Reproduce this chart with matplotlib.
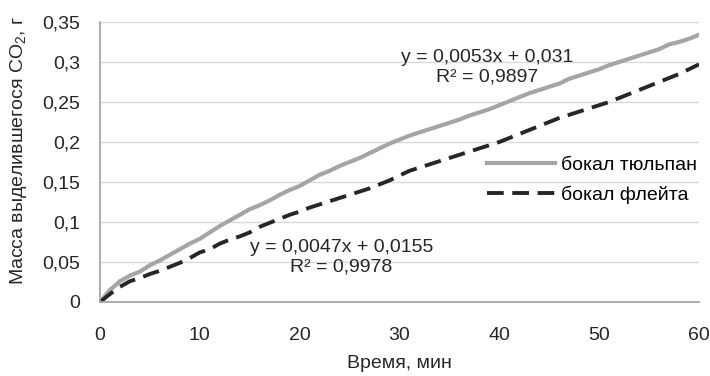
import matplotlib.pyplot as plt

# time, min
minutes = list(range(0, 61))

# mass of released CO2, g
tulip = [0, 0.015, 0.026, 0.033, 0.038, 0.046, 0.052, 0.059, 0.066, 0.073,
         0.079, 0.087, 0.095, 0.102, 0.109, 0.116, 0.121, 0.127, 0.134, 0.140,
         0.145, 0.152, 0.159, 0.164, 0.170, 0.175, 0.180, 0.186, 0.192, 0.198,
         0.203, 0.208, 0.212, 0.216, 0.220, 0.224, 0.228, 0.233, 0.237, 0.241,
         0.246, 0.251, 0.256, 0.261, 0.265, 0.269, 0.273, 0.279, 0.283, 0.287,
         0.291, 0.296, 0.300, 0.304, 0.308, 0.312, 0.316, 0.322, 0.325, 0.329,
         0.334]
flute = [0, 0.010, 0.019, 0.026, 0.030, 0.035, 0.039, 0.044, 0.049, 0.055,
         0.062, 0.066, 0.073, 0.078, 0.082, 0.087, 0.094, 0.099, 0.104, 0.109,
         0.113, 0.118, 0.122, 0.126, 0.130, 0.134, 0.138, 0.142, 0.147, 0.152,
         0.158, 0.164, 0.168, 0.172, 0.176, 0.180, 0.184, 0.188, 0.192, 0.196,
         0.200, 0.205, 0.210, 0.215, 0.220, 0.225, 0.230, 0.234, 0.238, 0.242,
         0.246, 0.250, 0.255, 0.260, 0.265, 0.270, 0.275, 0.280, 0.285, 0.291,
         0.297]

x_ticks = [0, 10, 20, 30, 40, 50, 60]
y_ticks = [0, 0.05, 0.1, 0.15, 0.2, 0.25, 0.3, 0.35]
y_labels = ["0", "0,05", "0,1", "0,15", "0,2", "0,25", "0,3", "0,35"]

plt.rcParams['font.family'] = ['Liberation Sans', 'DejaVu Sans']
plt.rcParams['font.size'] = 14
txt = '#262626'

fig = plt.figure(figsize=(7.1, 3.76), dpi=100)
ax = fig.add_axes([100 / 710, 1 - 302 / 376, 599 / 710, 280 / 376])

ax.plot(minutes, tulip, color='#a5a5a5', lw=3, label='бокал тюльпан')
ax.plot(minutes, flute, color='#262626', lw=2.8, dashes=(4.3, 2.2), label='бокал флейта')

ax.set_xlim(0, 60)
ax.set_ylim(0, 0.35)
ax.set_xticks(x_ticks)
ax.set_yticks(y_ticks)
ax.set_yticklabels(y_labels)
ax.tick_params(length=0, labelsize=14, colors=txt)
ax.tick_params(axis='y', pad=14)
ax.tick_params(axis='x', pad=18)
ax.grid(axis='y', color='#d9d9d9', lw=1)
ax.set_axisbelow(True)
for s in ['top', 'right']:
    ax.spines[s].set_visible(False)
for s in ['left', 'bottom']:
    ax.spines[s].set_color('#a6a6a6')
    ax.spines[s].set_linewidth(1.3)

ax.set_xlabel('Время, мин', fontsize=14, color=txt)
ax.xaxis.set_label_coords(0.5, -0.19)
ax.set_ylabel('Масса выделившегося CO$\\mathregular{_2}$, г', fontsize=14, color=txt)
ax.yaxis.set_label_coords(-0.118, 0.54)

ax.text(38.8, 0.293, 'y = 0,0053x + 0,031\nR² = 0,9897', ha='center', va='center',
        fontsize=14, color=txt, linespacing=1.2)
ax.text(24.2, 0.0556, 'y = 0,0047x + 0,0155\nR² = 0,9978', ha='center', va='center',
        fontsize=14, color=txt, linespacing=1.2)

ax.legend(loc='center left', bbox_to_anchor=(0.633, 0.434), frameon=False,
          fontsize=14, handlelength=3.5, handletextpad=0.3, labelspacing=0.6,
          borderaxespad=0)

fig.savefig('out.png', dpi=100)
